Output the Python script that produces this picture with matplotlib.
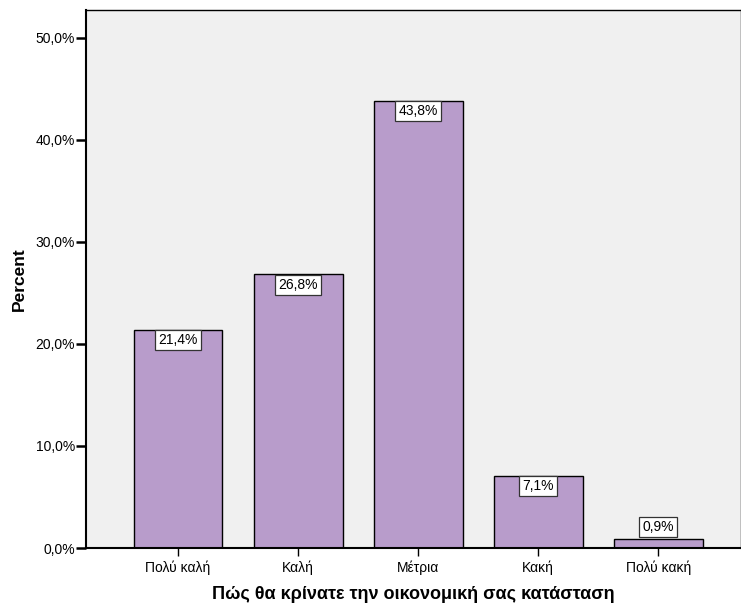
import matplotlib
matplotlib.use("Agg")
import matplotlib.pyplot as plt
from matplotlib.ticker import FuncFormatter

plt.rcParams['font.family'] = ['Liberation Sans', 'DejaVu Sans']

# Data
categories = ['Πολύ καλή', 'Καλή', 'Μέτρια', 'Κακή', 'Πολύ κακή']
percents = [21.4, 26.8, 43.8, 7.1, 0.9]
yticks = [0, 10, 20, 30, 40, 50]

fig = plt.figure(figsize=(7.41, 6.05), dpi=100)
ax = fig.add_axes([86 / 741, 57 / 605, 655 / 741, 538 / 605])
ax.set_facecolor('#F0F0F0')

x = range(len(categories))
ax.bar(x, percents, width=0.74, color='#B89CCB', edgecolor='black', linewidth=1.0, zorder=2)

# value labels in boxes just below bar tops (above if the bar is too short)
for xi, v in zip(x, percents):
    if v > 3:
        off, va = -2.5, 'top'
    else:
        off, va = 3.5, 'bottom'
    ax.annotate(f"{v:.1f}%".replace('.', ','), xy=(xi, v), xytext=(0, off),
                textcoords='offset points', ha='center', va=va, fontsize=10,
                bbox=dict(boxstyle='square,pad=0.22', fc='white', ec='#333333', lw=0.9),
                zorder=3)

ax.set_xlim(-0.767, 4.69)
ax.set_ylim(0, 52.7)
ax.set_yticks(yticks)
ax.yaxis.set_major_formatter(FuncFormatter(lambda v, p: f"{v:.1f}%".replace('.', ',')))
ax.set_xticks(list(x))
ax.set_xticklabels(categories)
ax.tick_params(axis='y', length=7, width=1.8, labelsize=10, pad=1)
ax.tick_params(axis='x', length=6, width=1.0, labelsize=10, pad=3)

for s in ax.spines.values():
    s.set_linewidth(1.0)
ax.spines['left'].set_linewidth(1.5)
ax.spines['bottom'].set_linewidth(1.5)

ax.set_ylabel('Percent', fontsize=12.5, fontweight='bold', labelpad=6)
ax.set_xlabel('Πώς θα κρίνατε την οικονομική σας κατάσταση', fontsize=13,
              fontweight='bold', labelpad=8)

fig.savefig('out.png', dpi=100)
